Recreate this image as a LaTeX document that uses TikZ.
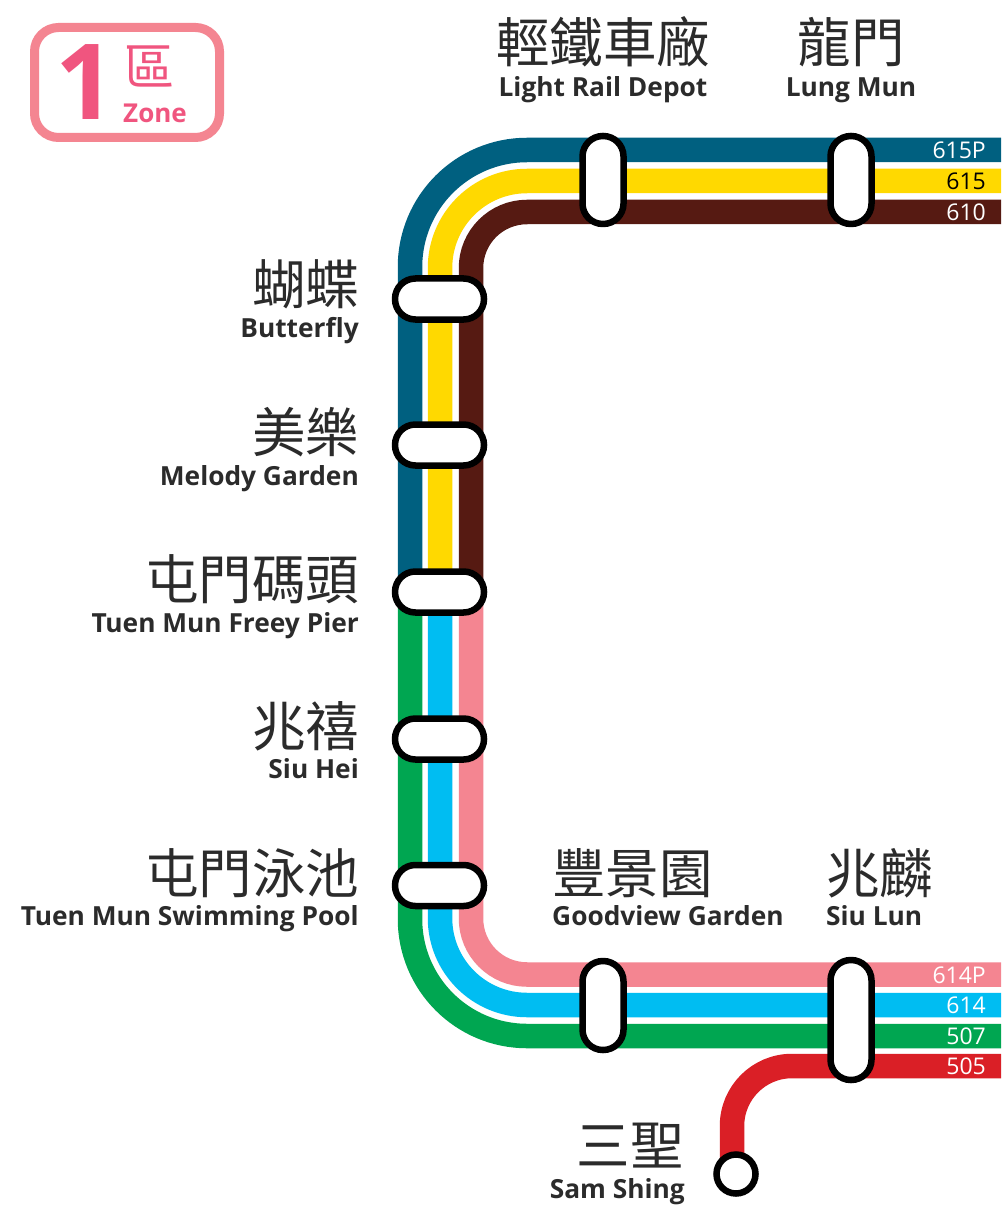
\documentclass[tikz,border=0pt]{standalone}
\usepackage{fontspec}
\setmainfont{Open Sans}
\newfontfamily\cjk{Noto Sans CJK TC}
\newfontfamily\lat{Open Sans}[UprightFont=*,BoldFont=* Bold]
\definecolor{teal2}{HTML}{006080}
\definecolor{yellow2}{HTML}{FFD900}
\definecolor{brown2}{HTML}{561A12}
\definecolor{green2}{HTML}{00A651}
\definecolor{blue2}{HTML}{00BDF2}
\definecolor{pink2}{HTML}{F48591}
\definecolor{red2}{HTML}{DA1F26}
\definecolor{rose2}{HTML}{F0557F}
\definecolor{ink}{HTML}{2B2B2B}
\tikzset{
  x=1pt,y=-1pt,
  band/.style={line width=24.5pt},
  hpill/.style={draw=black,line width=6.5pt,fill=white,rectangle,rounded corners=20.4pt,inner sep=0pt,minimum width=89pt,minimum height=41pt},
  vpill/.style={draw=black,line width=6.5pt,fill=white,rectangle,rounded corners=20.4pt,inner sep=0pt,minimum width=41pt},
  term/.style={draw=black,line width=6.5pt,fill=white,circle,inner sep=0pt,minimum size=39pt},
  zh/.style={inner sep=0pt,text=ink,font=\fontsize{53.5}{53.5}\selectfont\cjk},
  en/.style={inner sep=0pt,text=ink,font=\fontsize{26.3}{26.3}\selectfont\lat\bfseries},
  rt/.style={inner sep=0pt,anchor=mid east,text=white,font=\fontsize{23}{23}\selectfont\lat},
}
\begin{document}
\begin{tikzpicture}
\useasboundingbox (0,0) rectangle (1001,1222);
\fill[white] (0,0) rectangle (1001,1222);
% upper lines
\draw[band,teal2] (410,592) -- (410,267) arc[start angle=180,end angle=270,radius=117] -- (1001,150);
\draw[band,yellow2] (440,592) -- (440,268) arc[start angle=180,end angle=270,radius=87] -- (1001,181);
\draw[band,brown2] (471,592) -- (471,268) arc[start angle=180,end angle=270,radius=56] -- (1001,212);
% lower lines
\draw[band,green2] (410,592) -- (410,919) arc[start angle=180,end angle=90,radius=117] -- (1001,1036);
\draw[band,blue2] (440,592) -- (440,918) arc[start angle=180,end angle=90,radius=87] -- (1001,1005);
\draw[band,pink2] (471,592) -- (471,918.5) arc[start angle=180,end angle=90,radius=56] -- (1001,974.5);
% branch
\coordinate (samend) at (732,1174);
\draw[band,red2] (samend) -- (732,1126) arc[start angle=180,end angle=270,radius=60] -- (1001,1066);
% stations
\node[hpill] (butterfly) at (439.5,299) {};
\node[hpill] (melody) at (439.5,445) {};
\node[hpill] (pier) at (439.5,592) {};
\node[hpill] (siuhei) at (439.5,739) {};
\node[hpill] (pool) at (439.5,885.5) {};
\node[vpill,minimum height=88pt] (depot) at (603,180) {};
\node[vpill,minimum height=88pt] (lungmun) at (851,180) {};
\node[vpill,minimum height=89pt] (goodview) at (603,1005.5) {};
\node[vpill,minimum height=120pt] (siulun) at (851,1020) {};
\node[term] (samshing) at (736,1174) {};
% route labels
\node[rt] (r615p) at (986,156) {615P};
\node[rt,text=black] (r615) at (986,187) {615};
\node[rt] (r610) at (986,218) {610};
\node[rt] (r614p) at (986,980.5) {614P};
\node[rt] (r614) at (986,1011) {614};
\node[rt] (r507) at (986,1042) {507};
\node[rt] (r505) at (986,1072) {505};
% station labels
\node[zh,anchor=base] (t1) at (603,63) {輕鐵車廠};
\node[en,anchor=base] (t1e) at (603,96.5) {Light Rail Depot};
\node[zh,anchor=base] (t2) at (851,63) {龍門};
\node[en,anchor=base] (t2e) at (851,96.5) {Lung Mun};
\node[zh,anchor=base east] (t3) at (359.5,305) {蝴蝶};
\node[en,anchor=base east] (t3e) at (359,337.5) {Butterfly};
\node[zh,anchor=base east] (t4) at (359.5,452) {美樂};
\node[en,anchor=base east] (t4e) at (359,485.5) {Melody Garden};
\node[zh,anchor=base east] (t5) at (359.5,599) {屯門碼頭};
\node[en,anchor=base east] (t5e) at (359,632.5) {Tuen Mun Freey Pier};
\node[zh,anchor=base east] (t6) at (359.5,746) {兆禧};
\node[en,anchor=base east] (t6e) at (359,778.5) {Siu Hei};
\node[zh,anchor=base east] (t7) at (359.5,893) {屯門泳池};
\node[en,anchor=base east] (t7e) at (359,925.5) {Tuen Mun Swimming Pool};
\node[zh,anchor=base west] (t8) at (552,893) {豐景園};
\node[en,anchor=base west] (t8e) at (552,925.5) {Goodview Garden};
\node[zh,anchor=base west] (t9) at (826,893) {兆麟};
\node[en,anchor=base west] (t9e) at (826,925.5) {Siu Lun};
\node[zh,anchor=base east] (t10) at (684,1165) {三聖};
\node[en,anchor=base east] (t10e) at (685,1198.5) {Sam Shing};
% zone
\node[draw=pink2,line width=9pt,fill=white,rectangle,rounded corners=24pt,inner sep=0pt,minimum width=185pt,minimum height=110pt] (zone) at (127,82.5) {};
\node[inner sep=0pt,anchor=base,text=rose2,font=\fontsize{105}{105}\selectfont\lat\bfseries] (zn) at (85,120) {1};
\node[inner sep=0pt,text=rose2,font=\fontsize{50}{50}\selectfont\cjk] (zh1) at (149,66) {區};
\node[inner sep=0pt,anchor=base,text=rose2,font=\fontsize{26}{26}\selectfont\lat\bfseries] (ze) at (155,122.5) {Zone};
\end{tikzpicture}
\end{document}
